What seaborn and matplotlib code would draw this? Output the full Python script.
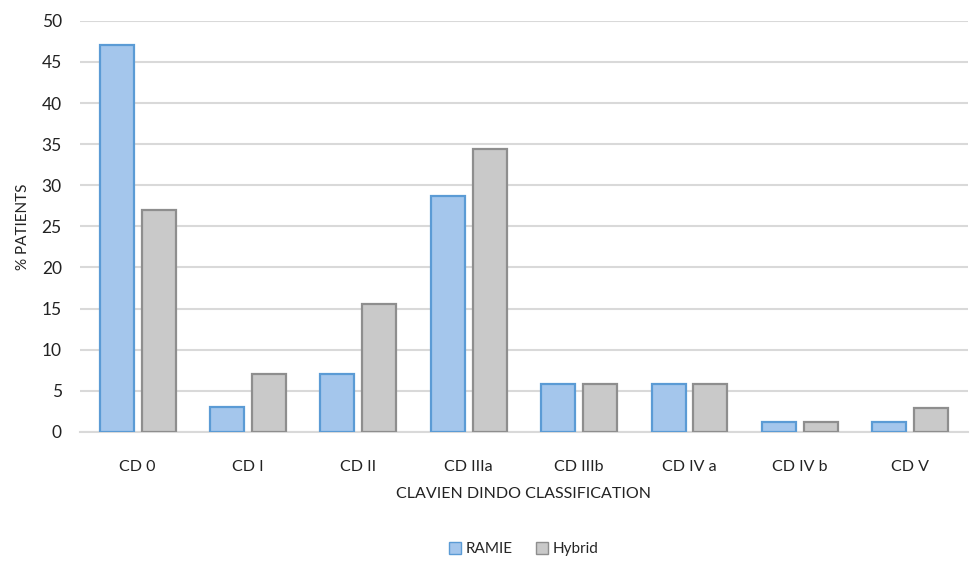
import numpy as np
import pandas as pd
import matplotlib
matplotlib.use("Agg")
import matplotlib.pyplot as plt
import seaborn as sns

categories = ["CD 0", "CD I", "CD II", "CD IIIa", "CD IIIb", "CD IV a", "CD IV b", "CD V"]
ramie = [47.1, 3.0, 7.0, 28.7, 5.8, 5.8, 1.2, 1.2]
hybrid = [27.0, 7.0, 15.6, 34.4, 5.8, 5.8, 1.2, 2.9]
groups = ["RAMIE", "Hybrid"]

df = pd.DataFrame({
    "cat": categories * 2,
    "val": ramie + hybrid,
    "grp": [groups[0]] * len(categories) + [groups[1]] * len(categories),
})

sns.set_style("white")
plt.rcParams["font.family"] = ["Lato", "DejaVu Sans"]

fig = plt.figure(figsize=(9.73, 5.63), dpi=100)
ax = fig.add_axes([0.082, 0.233, 0.913, 0.73])

pal = {"RAMIE": "#A4C6EC", "Hybrid": "#C9C9C9"}
sns.barplot(data=df, x="cat", y="val", hue="grp", palette=pal, width=0.76, gap=0.19,
            ax=ax, legend=True, saturation=1)

for p in ax.patches[:2 * len(categories)]:
    if p.get_facecolor()[0] < 0.7:
        p.set_edgecolor("#5B9BD5")
    else:
        p.set_edgecolor("#8E8E8E")
    p.set_linewidth(1.6)
    p.set_zorder(3)

ax.set_ylim(0, 50)
ax.set_xlim(-0.525, 7.525)
ax.set_yticks(np.arange(0, 51, 5))
ax.yaxis.grid(True, color="#D9D9D9", linewidth=1.5, zorder=0)
ax.set_axisbelow(True)
for s in ["top", "right", "left"]:
    ax.spines[s].set_visible(False)
ax.spines["bottom"].set_color("#D9D9D9")
ax.spines["bottom"].set_linewidth(1.5)
ax.tick_params(axis="y", length=0, labelsize=12.5, pad=13, colors="#222222")
ax.tick_params(axis="x", length=0, labelsize=11.5, pad=20, colors="#222222")
ax.set_xlabel("CLAVIEN DINDO CLASSIFICATION", fontsize=11.5, labelpad=10, color="#222222")
ax.set_ylabel("% PATIENTS", fontsize=11, labelpad=8, color="#222222")

handles, labels = ax.get_legend_handles_labels()
for h in handles:
    h.set_edgecolor("#5B9BD5" if h.get_label() == "RAMIE" else "#8E8E8E")
ax.legend(handles, labels, loc="center", bbox_to_anchor=(0.5, -0.285), ncol=2, frameon=False,
          fontsize=11, handlelength=0.8, handleheight=0.8, handletextpad=0.3, columnspacing=1.5)

fig.savefig("out.png", dpi=100)
